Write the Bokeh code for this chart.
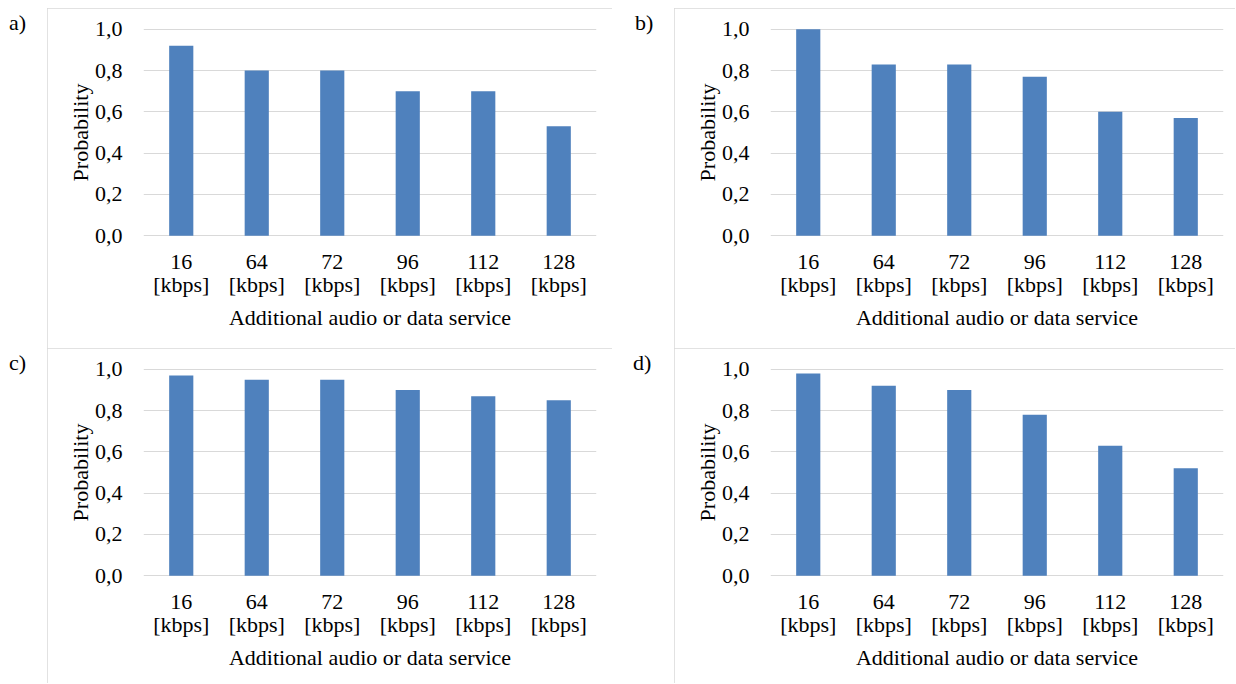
from bokeh.plotting import figure
from bokeh.layouts import row, column
from bokeh.models import Range1d, FixedTicker, CustomJSTickFormatter, Div, Spacer
from bokeh.embed import file_html
from bokeh.resources import INLINE

# ---- data ----
categories = ["16\n[kbps]", "64\n[kbps]", "72\n[kbps]", "96\n[kbps]", "112\n[kbps]", "128\n[kbps]"]
values_a = [0.92, 0.80, 0.80, 0.70, 0.70, 0.53]
values_b = [1.00, 0.83, 0.83, 0.77, 0.60, 0.57]
values_c = [0.97, 0.95, 0.95, 0.90, 0.87, 0.85]
values_d = [0.98, 0.92, 0.90, 0.78, 0.63, 0.52]
y_ticks = [0.0, 0.2, 0.4, 0.6, 0.8, 1.0]
panel_letters = ["a)", "b)", "c)", "d)"]
x_title = "Additional audio or data service"
y_title = "Probability"

FONT = "'Liberation Serif', 'Times New Roman', serif"
FS = "22px"
BAR = "#4f81bd"
GRID = "#d9d9d9"
FRAME_W = 453
FRAME_H = 208


def panel(vals, w, h, clip):
    p = figure(x_range=categories, y_range=Range1d(-0.004, 1.004),
               width=w, height=h, output_backend="svg", toolbar_location=None,
               title_location=None,
               min_border_left=96, min_border_right=w - 96 - FRAME_W,
               min_border_top=20, min_border_bottom=h - 20 - FRAME_H)
    p.vbar(x=categories, top=vals, width=0.32, fill_color=BAR, line_color=None)
    p.outline_line_color = None
    p.xgrid.grid_line_color = None
    p.ygrid.grid_line_color = GRID
    p.ygrid.grid_line_width = 1
    p.yaxis.ticker = FixedTicker(ticks=y_ticks)
    p.yaxis.formatter = CustomJSTickFormatter(code="return tick.toFixed(1).replace('.', ',');")
    for ax in (p.xaxis, p.yaxis):
        ax.axis_line_color = None
        ax.major_tick_line_color = None
        ax.minor_tick_line_color = None
        ax.major_label_text_font = FONT
        ax.major_label_text_font_size = FS
        ax.major_label_text_color = "black"
        ax.axis_label_text_font = FONT
        ax.axis_label_text_font_size = FS
        ax.axis_label_text_font_style = "normal"
        ax.axis_label_text_color = "black"
    p.xaxis.major_label_text_line_height = 0.95
    p.xaxis.major_label_standoff = 6
    p.xaxis.axis_label = x_title
    p.xaxis.axis_label_standoff = 5
    p.yaxis.major_label_standoff = 15
    p.yaxis.axis_label = y_title
    p.yaxis.axis_label_standoff = -1
    p.styles = {"outline": "1px solid #d9d9d9", "outline-offset": "-1px",
                "clip-path": clip}
    return p


def letter(txt, w, h, xoff):
    html = ('<div style="position:relative; left:%dpx; top:4px; '
            'font-family:\'Liberation Serif\', \'Times New Roman\', serif; '
            'font-size:22px; line-height:22px; color:black; white-space:nowrap;">%s</div>'
            % (xoff, txt))
    return Div(text=html, width=w, height=h, margin=(0, 0, 0, 0))


H1, H2 = 340, 336
top = row(letter(panel_letters[0], 47, H1, 9), panel(values_a, 565, H1, "none"),
          letter(panel_letters[1], 62, H1, 23), panel(values_b, 562, H1, "inset(0px 1px 0px 0px)"))
bottom = row(letter(panel_letters[2], 47, H2, 9), panel(values_c, 565, H2, "inset(0px 0px 1px 0px)"),
             letter(panel_letters[3], 62, H2, 21), panel(values_d, 562, H2, "inset(0px 1px 1px 0px)"))
layout = column(Spacer(width=1236, height=8), top, bottom)

open("out.html", "w").write(file_html(layout, INLINE))
